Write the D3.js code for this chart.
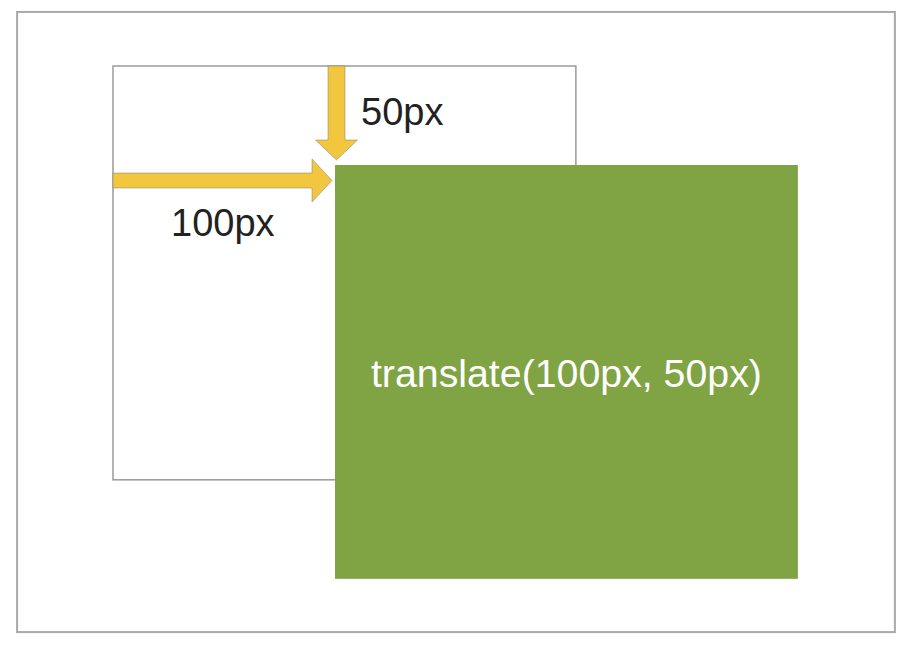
<!DOCTYPE html>
<html lang="en">
<head>
    <meta charset="UTF-8">
    <title>translate(100px, 50px)</title>
    <script src="https://d3js.org/d3.v7.min.js"></script>
    <style>
        body {
            margin: 0;
            padding: 0;
            background: #fff;
            overflow: hidden;
            font-family: "Liberation Sans", Arial, sans-serif;
        }
        .label {
            font-size: 38px;
            fill: #222;
        }
        .caption {
            font-size: 38px;
            fill: #fff;
        }
    </style>
</head>
<body>
    <svg id="diagram" width="906" height="648"></svg>

    <script>
        // Translation shown in the diagram (css px units)
        const offset = [100, 50];
        // Size of the box before and after the move (same box)
        const boxSize = [208.5, 209];
        // Labels
        const offsetLabels = ["100px", "50px"];
        const captionText = `translate(${offset[0]}px, ${offset[1]}px)`;

        // Diagram units -> screen pixels
        const x = d3.scaleLinear().domain([0, offset[0]]).range([113, 335]);
        const y = d3.scaleLinear().domain([0, offset[1]]).range([66, 165]);

        const svg = d3.select("#diagram");

        // outer frame
        svg.append("rect")
            .attr("x", x(-43.2))
            .attr("y", y(-27.3))
            .attr("width", x(352.2) - x(-43.2))
            .attr("height", y(285.9) - y(-27.3))
            .attr("fill", "#fff")
            .attr("stroke", "#a9a9a9")
            .attr("stroke-width", 2);

        // original position
        svg.append("rect")
            .attr("x", x(0))
            .attr("y", y(0))
            .attr("width", x(boxSize[0]) - x(0))
            .attr("height", y(boxSize[1]) - y(0))
            .attr("fill", "#fff")
            .attr("stroke", "#9a9a9a")
            .attr("stroke-width", 1.5);

        // translated box
        svg.append("rect")
            .attr("x", x(offset[0]))
            .attr("y", y(offset[1]))
            .attr("width", x(offset[0] + boxSize[0]) - x(offset[0]))
            .attr("height", y(offset[1] + boxSize[1]) - y(offset[1]))
            .attr("fill", "#80a444");

        // arrows (drawn as polygons)
        const arrowColor = "#f2c73f";
        const line = d3.line();

        // horizontal arrow: from box's left edge to the new left edge
        const hy = 180.5, hShaft = 7.5, hHead = 21.5;
        const hx0 = x(0), hxTip = x(offset[0]) - 3, hxHead = hxTip - 20;
        svg.append("path")
            .attr("d", line([
                [hx0, hy - hShaft], [hxHead, hy - hShaft], [hxHead, hy - hHead],
                [hxTip, hy], [hxHead, hy + hHead], [hxHead, hy + hShaft],
                [hx0, hy + hShaft]
            ]) + "Z")
            .attr("fill", arrowColor)
            .attr("stroke", "rgba(110,110,110,0.45)")
            .attr("stroke-width", 1);

        // vertical arrow: from box's top edge down to the new top edge
        const vx = 336.5, vShaft = 8.5, vHead = 21;
        const vy0 = y(0), vyTip = y(offset[1]) - 5, vyHead = vyTip - 20;
        svg.append("path")
            .attr("d", line([
                [vx - vShaft, vy0], [vx - vShaft, vyHead], [vx - vHead, vyHead],
                [vx, vyTip], [vx + vHead, vyHead], [vx + vShaft, vyHead],
                [vx + vShaft, vy0]
            ]) + "Z")
            .attr("fill", arrowColor)
            .attr("stroke", "rgba(110,110,110,0.45)")
            .attr("stroke-width", 1);

        // labels
        svg.append("text")
            .attr("class", "label")
            .attr("x", 171)
            .attr("y", 236)
            .text(offsetLabels[0]);

        svg.append("text")
            .attr("class", "label")
            .attr("x", 361)
            .attr("y", 125)
            .text(offsetLabels[1]);

        svg.append("text")
            .attr("class", "caption")
            .attr("x", (x(offset[0]) + x(offset[0] + boxSize[0])) / 2)
            .attr("y", 387)
            .attr("text-anchor", "middle")
            .attr("textLength", 391)
            .attr("lengthAdjust", "spacingAndGlyphs")
            .text(captionText);
    </script>
</body>
</html>
